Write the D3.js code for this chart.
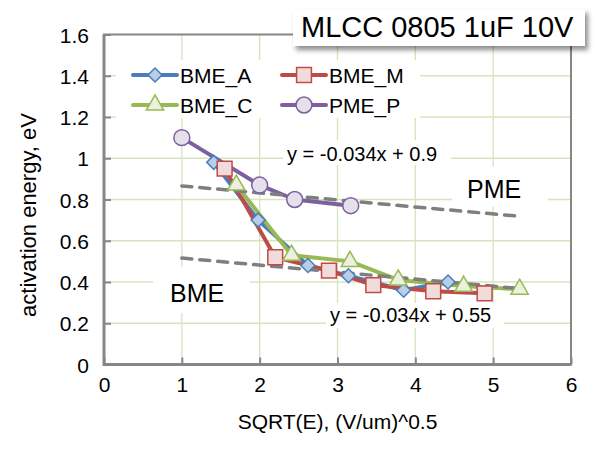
<!DOCTYPE html>
<html>
<head>
<meta charset="utf-8">
<script src="https://cdn.jsdelivr.net/npm/d3@7/dist/d3.min.js"></script>
<style>
  html, body { margin: 0; padding: 0; background: #fff; }
  svg { display: block; font-family: "Liberation Sans", Arial, sans-serif; }
</style>
</head>
<body>
<svg id="chart" width="593" height="454"></svg>
<script>
// Activation energy vs. square root of field strength, MLCC 0805 1uF 10V
const seriesNames = ["BME_A", "BME_M", "BME_C", "PME_P"];

const bmeA_x = [1.41, 1.98, 2.62, 3.14, 3.85, 4.42];
const bmeA_y = [0.98, 0.70, 0.48, 0.43, 0.36, 0.40];

const bmeM_x = [1.55, 2.20, 2.89, 3.46, 4.23, 4.89];
const bmeM_y = [0.95, 0.52, 0.455, 0.385, 0.355, 0.345];

const bmeC_x = [1.70, 2.41, 3.16, 3.78, 4.62, 5.34];
const bmeC_y = [0.87, 0.53, 0.50, 0.41, 0.38, 0.365];

const pmeP_x = [1.00, 2.00, 2.45, 3.17];
const pmeP_y = [1.10, 0.87, 0.80, 0.77];

// linear trend lines y = slope * x + intercept
const trendSlopes = [-0.034, -0.034];
const trendIntercepts = [0.9, 0.55];
const trendFrom = [1.0, 1.0];
const trendTo = [5.37, 5.37];
const trendLabels = ["y = -0.034x + 0.9", "y = -0.034x + 0.55"];

const xTicks = [0, 1, 2, 3, 4, 5, 6];
const yTicks = [0, 0.2, 0.4, 0.6, 0.8, 1, 1.2, 1.4, 1.6];

const chartTitle = "MLCC 0805 1uF 10V";
const xTitle = "SQRT(E), (V/um)^0.5";
const yTitle = "activation energy, eV";

const styles = {
  BME_A: { line: "#4a7ebb", stroke: "#4a7ebb", fill: "#b9cde5", symbol: d3.symbolSquare, size: 98, rotate: 45 },
  BME_M: { line: "#be4b48", stroke: "#be4b48", fill: "#f2dcdb", symbol: d3.symbolSquare, size: 220, rotate: 0 },
  BME_C: { line: "#98b954", stroke: "#98b954", fill: "#ebf1de", symbol: d3.symbolTriangle, size: 130, rotate: 0 },
  PME_P: { line: "#7d60a0", stroke: "#7d60a0", fill: "#e5e0ec", symbol: d3.symbolCircle, size: 200, rotate: 0 }
};

const series = [
  { name: "BME_A", xs: bmeA_x, ys: bmeA_y },
  { name: "BME_M", xs: bmeM_x, ys: bmeM_y },
  { name: "BME_C", xs: bmeC_x, ys: bmeC_y },
  { name: "PME_P", xs: pmeP_x, ys: pmeP_y }
].map(s => ({ name: s.name, pts: s.xs.map((x, i) => [x, s.ys[i]]) }));

const svg = d3.select("#chart");
const plot = { left: 104, right: 571, top: 34.5, bottom: 364.5 };

const x = d3.scaleLinear().domain([0, 6]).range([plot.left, plot.right]);
const y = d3.scaleLinear().domain([0, 1.6]).range([plot.bottom, plot.top]);

const gridColor = "#d7e4bd";
const axisColor = "#868686";

// gridlines
const grid = svg.append("g");
grid.selectAll("line.gx").data(xTicks.slice(1, -1)).join("line")
  .attr("x1", d => x(d)).attr("x2", d => x(d))
  .attr("y1", plot.top).attr("y2", plot.bottom)
  .attr("stroke", gridColor).attr("stroke-width", 1.3);
grid.selectAll("line.gy").data(yTicks.slice(1, -1)).join("line")
  .attr("y1", d => y(d)).attr("y2", d => y(d))
  .attr("x1", plot.left).attr("x2", plot.right)
  .attr("stroke", gridColor).attr("stroke-width", 1.3);

// white boxes behind the text annotations
const whiteBoxes = [
  [116, 60, 304, 58],   // legend
  [283, 140, 168, 25],  // upper equation
  [326, 303, 178, 25],  // lower equation
  [153, 267, 97, 46],   // BME
  [452, 167, 96, 40]    // PME
];
svg.append("g").selectAll("rect").data(whiteBoxes).join("rect")
  .attr("x", d => d[0]).attr("y", d => d[1]).attr("width", d => d[2]).attr("height", d => d[3])
  .attr("fill", "#fff");

// axes with inward ticks
const xAxis = d3.axisBottom(x).tickValues(xTicks).tickSize(-7).tickPadding(13).tickFormat(d3.format("d"));
const yAxis = d3.axisLeft(y).tickValues(yTicks).tickSize(-7).tickPadding(15).tickFormat(d => d3.format("")(d));

const gx = svg.append("g").attr("transform", `translate(0,${plot.bottom})`).call(xAxis);
const gy = svg.append("g").attr("transform", `translate(${plot.left},0)`).call(yAxis);
[gx, gy].forEach(g => {
  g.select(".domain").remove();
  g.selectAll(".tick line").attr("stroke", axisColor).attr("stroke-width", 2);
  g.selectAll(".tick text").attr("fill", "#000").style("font-size", "21px")
    .style("font-family", "'Liberation Sans', Arial, sans-serif");
});
gy.selectAll(".tick text").attr("dy", "0.36em");

// plot frame
svg.append("rect")
  .attr("x", plot.left).attr("y", plot.top)
  .attr("width", plot.right - plot.left).attr("height", plot.bottom - plot.top)
  .attr("fill", "none").attr("stroke", axisColor).attr("stroke-width", 2);
svg.append("path")
  .attr("d", `M${plot.left},${plot.top}V${plot.bottom}H${plot.right}`)
  .attr("fill", "none").attr("stroke", axisColor).attr("stroke-width", 3);

// series lines
const line = d3.line().x(d => x(d[0])).y(d => y(d[1]));
svg.append("g").selectAll("path").data(series).join("path")
  .attr("d", d => line(d.pts))
  .attr("fill", "none")
  .attr("stroke", d => styles[d.name].line)
  .attr("stroke-width", 4)
  .attr("stroke-linejoin", "round")
  .attr("stroke-linecap", "round");

// trend lines
const trends = trendSlopes.map((m, i) => ({
  m, b: trendIntercepts[i], x0: trendFrom[i], x1: trendTo[i]
}));
svg.append("g").selectAll("line").data(trends).join("line")
  .attr("x1", d => x(d.x0)).attr("y1", d => y(d.m * d.x0 + d.b))
  .attr("x2", d => x(d.x1)).attr("y2", d => y(d.m * d.x1 + d.b))
  .attr("stroke", "#7f7f7f").attr("stroke-width", 3.5)
  .attr("stroke-dasharray", "10,8").attr("stroke-linecap", "round");

// markers
const markerPath = st => d3.symbol().type(st.symbol).size(st.size)();
series.forEach(s => {
  const st = styles[s.name];
  svg.append("g").selectAll("path").data(s.pts).join("path")
    .attr("transform", d => `translate(${x(d[0])},${y(d[1])}) rotate(${st.rotate})`)
    .attr("d", markerPath(st))
    .attr("fill", st.fill).attr("stroke", st.stroke).attr("stroke-width", 1.5);
});

// legend
const legendItems = [
  { name: "BME_A", lx: 133, ly: 75 },
  { name: "BME_M", lx: 282, ly: 75 },
  { name: "BME_C", lx: 133, ly: 105 },
  { name: "PME_P", lx: 282, ly: 105 }
];
const lg = svg.append("g").selectAll("g").data(legendItems).join("g")
  .attr("transform", d => `translate(${d.lx},${d.ly})`);
lg.append("line").attr("x1", 0).attr("x2", 44).attr("y1", 0).attr("y2", 0)
  .attr("stroke", d => styles[d.name].line).attr("stroke-width", 4).attr("stroke-linecap", "round");
lg.append("path").attr("transform", d => `translate(22,0) rotate(${styles[d.name].rotate})`)
  .attr("d", d => markerPath(styles[d.name]))
  .attr("fill", d => styles[d.name].fill).attr("stroke", d => styles[d.name].stroke).attr("stroke-width", 1.5);
lg.append("text").attr("x", 47).attr("y", 0).attr("dy", "0.36em")
  .style("font-size", "21px").text(d => d.name);

// equation and region labels
svg.append("text").attr("x", 287).attr("y", 161).style("font-size", "20px").text(trendLabels[0]);
svg.append("text").attr("x", 330).attr("y", 322).style("font-size", "20px").text(trendLabels[1]);
svg.append("text").attr("x", 170).attr("y", 302).style("font-size", "25px").text("BME");
svg.append("text").attr("x", 467).attr("y", 198).style("font-size", "25px").text("PME");

// axis titles
svg.append("text").attr("x", (plot.left + plot.right) / 2).attr("y", 429)
  .attr("text-anchor", "middle").style("font-size", "21px").text(xTitle);
svg.append("text").attr("transform", "translate(36,215) rotate(-90)")
  .attr("text-anchor", "middle").style("font-size", "22px").text(yTitle);

// chart title box with soft shadow
const defs = svg.append("defs");
const f = defs.append("filter").attr("id", "shadow").attr("x", "-10%").attr("y", "-30%").attr("width", "130%").attr("height", "180%");
f.append("feDropShadow").attr("dx", 3).attr("dy", 4).attr("stdDeviation", 2.5)
  .attr("flood-color", "#000").attr("flood-opacity", 0.45);
svg.append("rect").attr("x", 293).attr("y", 9).attr("width", 292).attr("height", 37)
  .attr("fill", "#fff").attr("filter", "url(#shadow)");
svg.append("text").attr("x", 301).attr("y", 37).style("font-size", "29px").text(chartTitle);
</script>
</body>
</html>
